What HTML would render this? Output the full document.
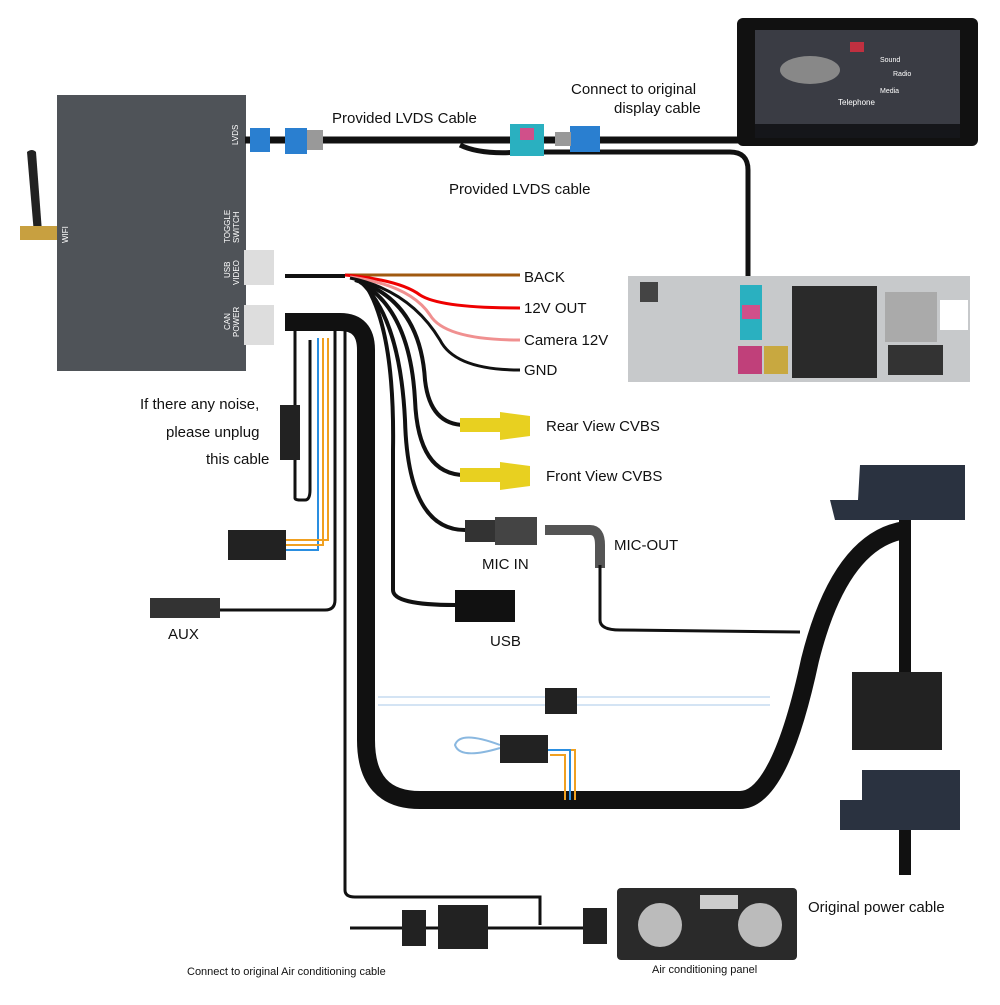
<!DOCTYPE html>
<html><head><meta charset="utf-8"><style>
body{margin:0;background:#fff;width:1000px;height:1000px;overflow:hidden}
text{font-family:"Liberation Sans",sans-serif;fill:#111}
</style></head><body>
<svg width="1000" height="1000" viewBox="0 0 1000 1000" xmlns="http://www.w3.org/2000/svg">
<!-- antenna -->
<path d="M27 152 Q32 148 36 152 L42 232 L34 234 Z" fill="#222"/>
<rect x="20" y="226" width="38" height="14" fill="#c8a040"/>
<!-- box -->
<rect x="57" y="95" width="189" height="276" fill="#4f5358"/>
<g font-size="8" style="fill:#fff">
<text x="238" y="145" style="fill:#fff" transform="rotate(-90 238 145)">LVDS</text>
<text x="68" y="243" style="fill:#fff" transform="rotate(-90 68 243)">WIFI</text>
<text x="230" y="243" style="fill:#fff" transform="rotate(-90 230 243)">TOGGLE</text>
<text x="239" y="243" style="fill:#fff" transform="rotate(-90 239 243)">SWITCH</text>
<text x="230" y="278" style="fill:#fff" transform="rotate(-90 230 278)">USB</text>
<text x="239" y="285" style="fill:#fff" transform="rotate(-90 239 285)">VIDEO</text>
<text x="230" y="330" style="fill:#fff" transform="rotate(-90 230 330)">CAN</text>
<text x="239" y="337" style="fill:#fff" transform="rotate(-90 239 337)">POWER</text>
</g>
<rect x="244" y="250" width="30" height="35" fill="#ddd"/>
<rect x="244" y="305" width="30" height="40" fill="#ddd"/>
<!-- LVDS cable -->
<path d="M245 140 H740" stroke="#111" stroke-width="7" fill="none"/>
<path d="M460 145 Q480 155 520 152 H730 Q748 152 748 170 V285" stroke="#111" stroke-width="5" fill="none"/>
<rect x="250" y="128" width="20" height="24" fill="#2a7fd0"/>
<rect x="285" y="128" width="22" height="26" fill="#2a7fd0"/>
<rect x="307" y="130" width="16" height="20" fill="#999"/>
<rect x="510" y="124" width="34" height="32" fill="#2ab0c0"/>
<rect x="520" y="128" width="14" height="12" fill="#d0508a"/>
<rect x="570" y="126" width="30" height="26" fill="#2a7fd0"/>
<rect x="555" y="132" width="16" height="14" fill="#999"/>
<text x="332" y="123" font-size="15">Provided LVDS Cable</text>
<text x="571" y="94" font-size="15">Connect to original</text>
<text x="614" y="113" font-size="15">display cable</text>
<text x="449" y="194" font-size="15">Provided LVDS cable</text>
<!-- screen -->
<rect x="737" y="18" width="241" height="128" rx="6" fill="#111"/>
<rect x="755" y="30" width="205" height="108" fill="#3a3c44"/>
<ellipse cx="810" cy="70" rx="30" ry="14" fill="#888"/>
<rect x="850" y="42" width="14" height="10" fill="#c03040"/>
<rect x="755" y="124" width="205" height="14" fill="#15161a"/>
<text x="880" y="62" font-size="7" style="fill:#fff">Sound</text>
<text x="893" y="76" font-size="7" style="fill:#fff">Radio</text>
<text x="880" y="93" font-size="7" style="fill:#fff">Media</text>
<text x="838" y="105" font-size="8" style="fill:#fff">Telephone</text>
<!-- head unit -->
<rect x="628" y="276" width="342" height="106" fill="#c7c9cb"/>
<rect x="640" y="282" width="18" height="20" fill="#444"/>
<rect x="792" y="286" width="85" height="92" fill="#2a2a2a"/>
<rect x="885" y="292" width="52" height="50" fill="#aaa"/>
<rect x="888" y="345" width="55" height="30" fill="#333"/>
<rect x="940" y="300" width="28" height="30" fill="#fff"/>
<rect x="740" y="285" width="22" height="55" fill="#2ab0c0"/>
<rect x="742" y="305" width="18" height="14" fill="#d0508a"/>
<rect x="738" y="346" width="24" height="28" fill="#c0407a"/>
<rect x="764" y="346" width="24" height="28" fill="#c8a840"/>
<!-- USB video wires -->
<path d="M285 276 H345" stroke="#111" stroke-width="4"/>
<path d="M345 275 H520" stroke="#a05a10" stroke-width="3"/>
<path d="M345 275 Q400 280 420 295 Q440 308 520 308" stroke="#e00" stroke-width="3" fill="none"/>
<path d="M350 277 Q410 285 430 315 Q445 340 520 340" stroke="#f09090" stroke-width="3" fill="none"/>
<path d="M350 278 Q410 290 440 340 Q455 370 520 370" stroke="#111" stroke-width="3" fill="none"/>
<g stroke="#111" stroke-width="4" fill="none">
<path d="M355 280 Q420 300 425 380 Q430 425 465 425"/>
<path d="M360 282 Q410 310 415 400 Q418 475 465 475"/>
<path d="M362 283 Q400 320 405 420 Q408 530 465 530"/>
<path d="M365 284 Q395 330 393 450 V590 Q393 605 455 605"/>
</g>
<text x="524" y="282" font-size="15">BACK</text>
<text x="524" y="313" font-size="15">12V OUT</text>
<text x="524" y="345" font-size="15">Camera 12V</text>
<text x="524" y="375" font-size="15">GND</text>
<!-- RCA -->
<rect x="460" y="418" width="40" height="14" fill="#e8d020"/><path d="M500 412 L530 416 V436 L500 440 Z" fill="#e8d020"/>
<rect x="460" y="468" width="40" height="14" fill="#e8d020"/><path d="M500 462 L530 466 V486 L500 490 Z" fill="#e8d020"/>
<text x="546" y="431" font-size="15">Rear View CVBS</text>
<text x="546" y="481" font-size="15">Front View CVBS</text>
<rect x="465" y="520" width="30" height="22" fill="#333"/><rect x="495" y="517" width="42" height="28" fill="#444"/>
<text x="482" y="569" font-size="15">MIC IN</text>
<path d="M545 530 H590 Q600 530 600 545 V568" stroke="#555" stroke-width="10" fill="none"/>
<path d="M600 565 V620 Q600 630 620 630 L800 632" stroke="#111" stroke-width="3" fill="none"/>
<text x="614" y="550" font-size="15">MIC-OUT</text>
<rect x="455" y="590" width="60" height="32" fill="#111"/>
<text x="490" y="646" font-size="15">USB</text>
<!-- CAN POWER thick cable -->
<path d="M285 322 H340 Q366 322 366 350 V740 Q366 800 420 800 H740 Q780 800 810 660 Q840 540 905 530" stroke="#111" stroke-width="18" fill="none"/>
<path d="M905 490 V680" stroke="#111" stroke-width="12" fill="none"/>
<path d="M905 790 V875" stroke="#111" stroke-width="12" fill="none"/>
<g stroke="#111" stroke-width="3" fill="none">
<path d="M295 330 V498 Q295 500 300 500 H305 Q310 500 310 490 V340"/>
<path d="M335 330 V600 Q335 610 325 610 H220"/>
<path d="M345 330 V890 Q345 897 355 897 H540 V925"/>
<path d="M350 928 H600"/>
</g>
<path d="M318 338 V550 H285" stroke="#2a8ee0" stroke-width="2" fill="none"/>
<path d="M323 338 V545 H285" stroke="#f0a020" stroke-width="2" fill="none"/>
<path d="M328 338 V540 H285" stroke="#f0a020" stroke-width="2" fill="none"/>
<rect x="280" y="405" width="20" height="55" fill="#222"/>
<rect x="228" y="530" width="58" height="30" fill="#222"/>
<rect x="150" y="598" width="70" height="20" fill="#333"/>
<text x="140" y="409" font-size="15">If there any noise,</text>
<text x="166" y="437" font-size="15">please unplug</text>
<text x="206" y="464" font-size="15">this cable</text>
<text x="168" y="639" font-size="15">AUX</text>
<!-- middle -->
<path d="M378 697 H770 M378 705 H770" stroke="#aac8e8" stroke-width="1"/>
<rect x="545" y="688" width="32" height="26" fill="#222"/>
<path d="M550 755 H565 V800 M550 750 H575 V800" stroke="#f0a020" stroke-width="2" fill="none"/>
<path d="M545 750 H570 V800" stroke="#2a8ee0" stroke-width="2" fill="none"/>
<path d="M500 748 Q460 760 455 745 Q460 730 500 745" stroke="#8ab8e0" stroke-width="2" fill="none"/>
<rect x="500" y="735" width="48" height="28" fill="#222"/>
<!-- right connectors -->
<path d="M830 500 L858 500 L860 465 L965 465 L965 520 L860 520 L835 520 Z" fill="#2a3240"/>
<rect x="852" y="672" width="90" height="78" fill="#222"/>
<path d="M840 800 L862 800 L862 770 L960 770 L960 830 L840 830 Z" fill="#2a3240"/>
<text x="808" y="912" font-size="15">Original power cable</text>
<!-- bottom -->
<rect x="402" y="910" width="24" height="36" fill="#222"/>
<rect x="438" y="905" width="50" height="44" fill="#222"/>
<rect x="583" y="908" width="24" height="36" fill="#222"/>
<rect x="617" y="888" width="180" height="72" rx="4" fill="#2a2a2a"/>
<circle cx="660" cy="925" r="22" fill="#bbb"/><circle cx="760" cy="925" r="22" fill="#bbb"/>
<rect x="700" y="895" width="38" height="14" fill="#ccc"/>
<text x="187" y="975" font-size="11">Connect to original Air conditioning cable</text>
<text x="652" y="973" font-size="11">Air conditioning panel</text>
</svg>
</body></html>
